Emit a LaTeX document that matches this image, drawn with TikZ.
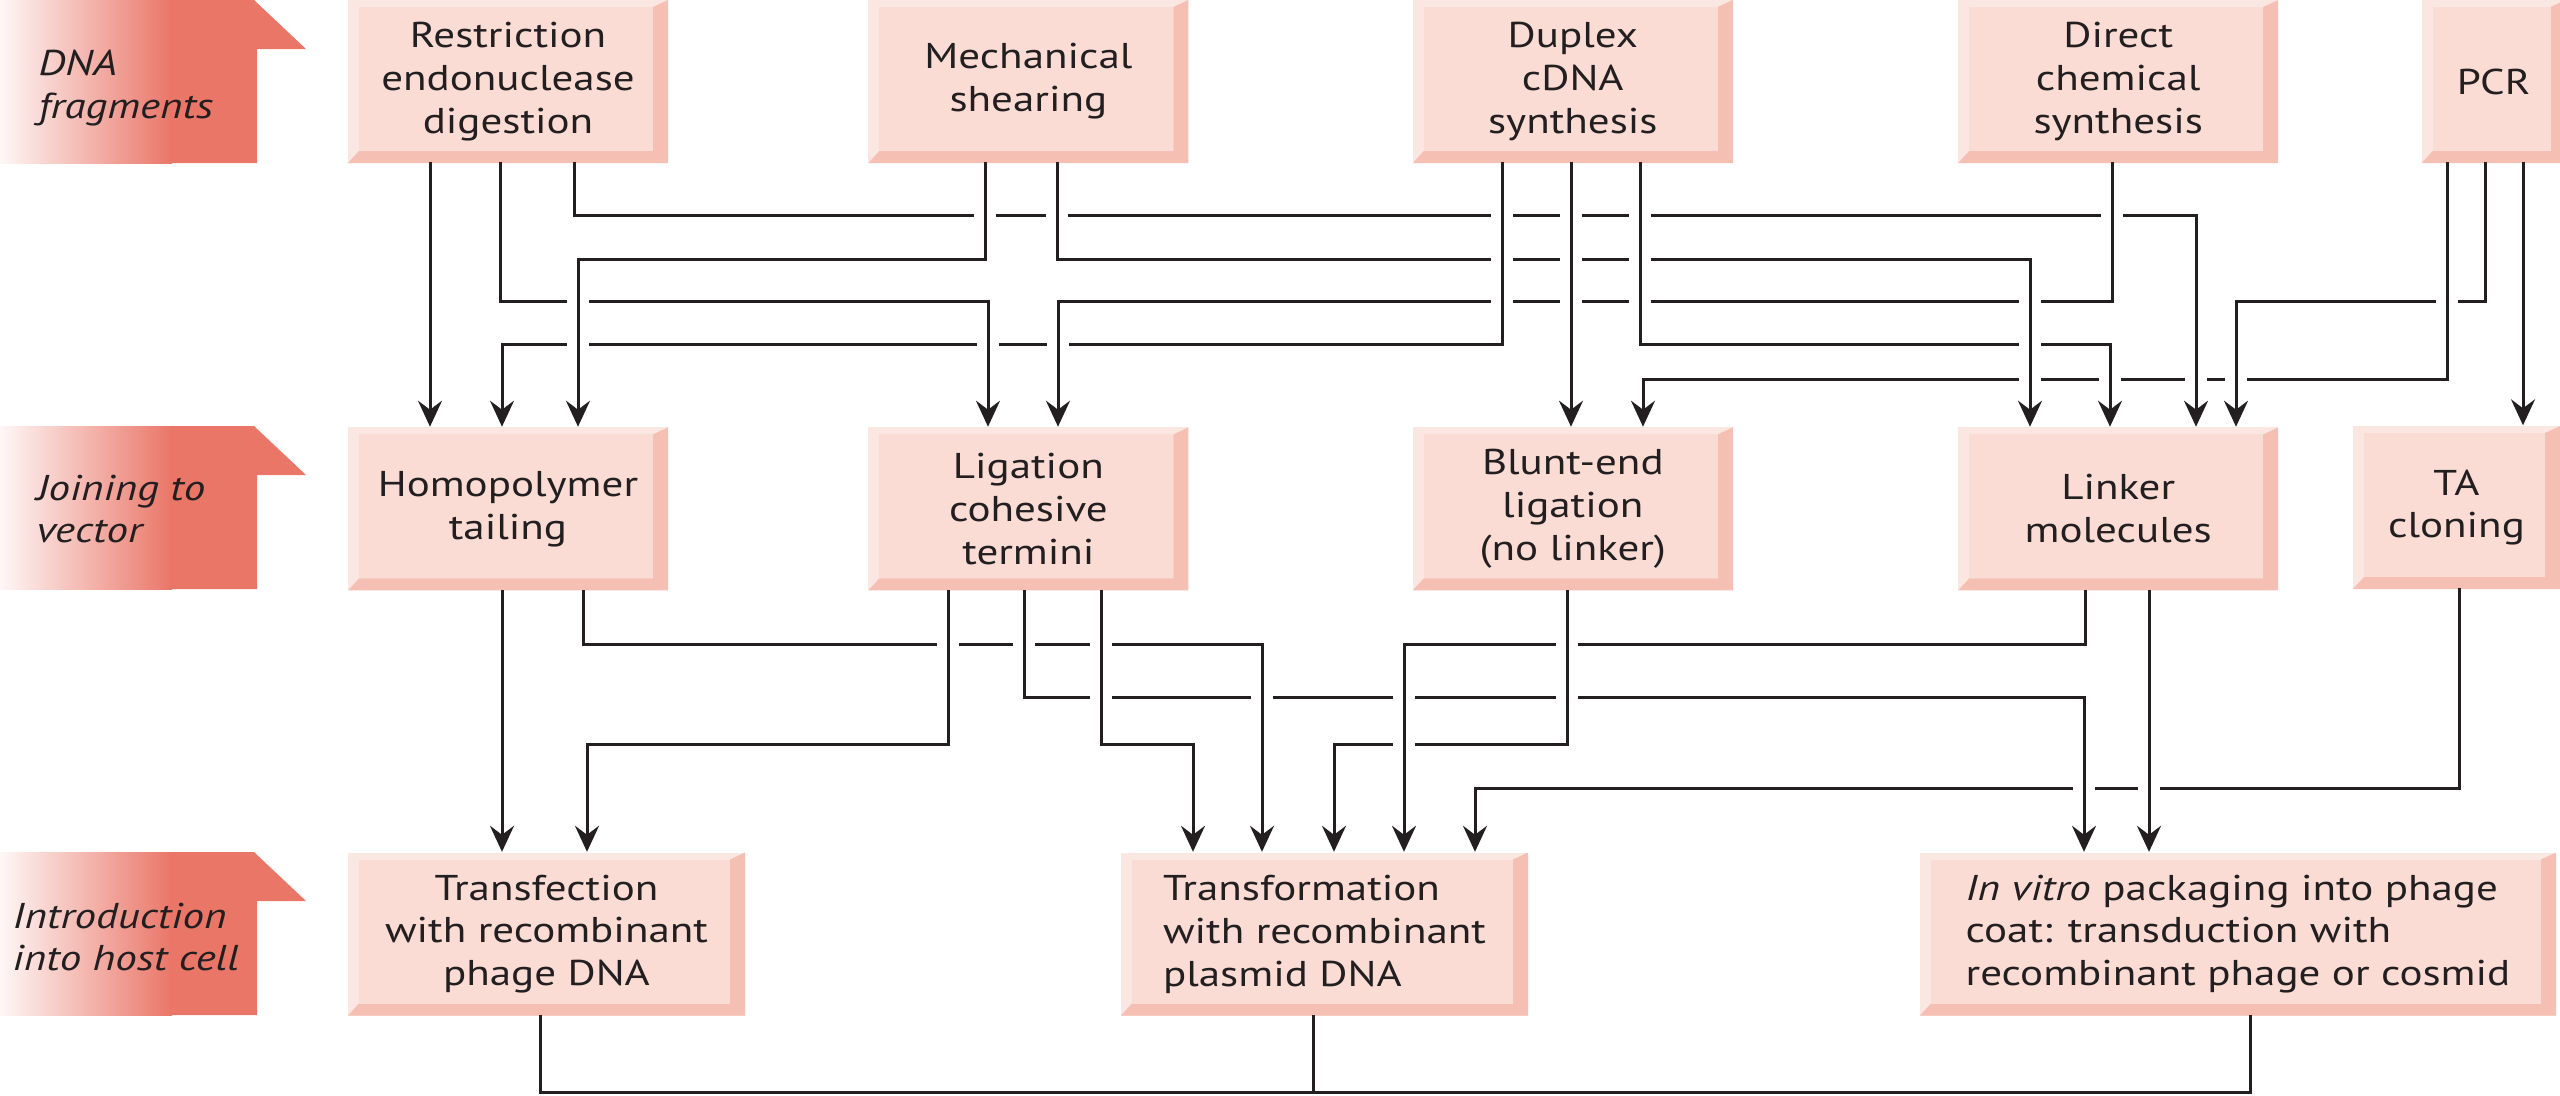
\documentclass[tikz,border=0pt]{standalone}
\usepackage{fontspec}
\setmainfont{PT Sans}[FakeStretch=1.2]
\usetikzlibrary{arrows.meta,positioning}
\definecolor{trazo}{RGB}{35,31,32}
\definecolor{pestana}{RGB}{234,118,104}
\definecolor{cajaclara}{RGB}{251,231,225}
\definecolor{cajacara}{RGB}{250,220,212}
\definecolor{cajaoscura}{RGB}{245,191,179}
\newcommand{\tamano}{\fontsize{10.2}{12.2}\selectfont}
\tikzstyle{caja}=[rectangle,inner sep=0pt,minimum width=32mm,minimum height=16.3mm,align=center,font=\tamano,text=trazo,fill=cajaclara,
  path picture={
    \fill[cajaoscura] (path picture bounding box.south west) -- (path picture bounding box.south east) -- (path picture bounding box.north east)
      -- ([shift={(-1.5mm,-0.7mm)}]path picture bounding box.north east) -- ([shift={(-1.5mm,1.2mm)}]path picture bounding box.south east)
      -- ([shift={(1.1mm,1.2mm)}]path picture bounding box.south west) -- cycle;
    \fill[cajacara] ([shift={(1.1mm,1.2mm)}]path picture bounding box.south west) rectangle ([shift={(-1.5mm,-0.7mm)}]path picture bounding box.north east);
  }]
\tikzstyle{rotulo}=[anchor=west,inner sep=0pt,align=left,font=\tamano\itshape,text=trazo]
\tikzstyle{linea}=[draw=trazo,line width=0.3mm,line cap=rect]
\tikzstyle{flecha}=[linea,-{Stealth[length=2.6mm,width=2.4mm,inset=0.9mm]}]
\tikzstyle{hueco}=[draw=white,line width=2.2mm]

\begin{document}
\begin{tikzpicture}[x=0.1mm,y=-0.1mm,node distance=26.3mm]
  \useasboundingbox (0,0) rectangle (2560,1095);
  % pestanas de la izquierda
  \foreach \t in {0,426,852}{
    \shade[left color=pestana!6,right color=pestana] (0,\t) rectangle (172,\t+163);
    \fill[pestana] (170,\t) -- (254,\t) -- (306,\t+49) -- (257,\t+49) -- (257,\t+163) -- (170,\t+163) -- cycle;
  }
  \node[rotulo] (frag) at (38,88) {DNA\\fragments};
  \node[rotulo] (union) at (36,509) {Joining to\\vector};
  \node[rotulo] (intro) at (12,937) {Introduction\\into host cell};

  \node[caja] (rest) at (508,81.5) {Restriction\\endonuclease\\digestion};
  \node[caja] (mech) [right=19.9mm of rest] {Mechanical\\shearing};
  \node[caja] (dup) [right=22.3mm of mech] {Duplex\\cDNA\\synthesis};
  \node[caja] (dir) [right=22.4mm of dup] {Direct\\chemical\\synthesis};
  \node[caja,minimum width=14.4mm] (pcr) [right=14.2mm of dir] {PCR};

  \node[caja] (homo) [below=of rest] {Homopolymer\\tailing};
  \node[caja] (lig) [below=of mech] {Ligation\\cohesive\\termini};
  \node[caja] (blunt) [below=of dup] {Blunt-end\\ligation\\(no linker)};
  \node[caja] (link) [below=of dir] {Linker\\molecules};
  \node[caja,minimum width=20.7mm] (ta) at (2456.5,507.5) {TA\\cloning};

  \node[caja,minimum width=39.7mm] (transf) at (546.5,934) {Transfection\\with recombinant\\phage DNA};
  \node[caja,minimum width=40.7mm,align=left] (transform) at (1324.5,934) {Transformation\\with recombinant\\plasmid DNA};
  \node[caja,minimum width=63.6mm,align=left] (vitro) at (2238,934) {\textit{In vitro} packaging into phage\\coat: transduction with\\recombinant phage or cosmid};

  % tramos horizontales
  \foreach \a/\xa/\ly/\xb/\b in {rest/500/301/988/lig,rest/574/215/2196/link,mech/985/259/578/homo,mech/1057/259/2030/link,
      dup/1502/344/502/homo,dup/1640/344/2110/link,dir/2112/301/1058/lig,pcr/2447/379/1643/blunt,pcr/2485/301/2236/link,
      homo/583/644/1262/transform,lig/948/744/587/transf,lig/1024/697/2084/vitro,lig/1101/744/1193/transform,
      blunt/1567/744/1334/transform,link/2085/644/1404/transform,ta/2459/788/1475/transform}
    \draw[linea] (\xa,\ly) -- (\xb,\ly);
  % tramos verticales, cortando los horizontales que cruzan
  \foreach \a/\xa/\ly/\xb/\b in {rest/500/301/988/lig,rest/574/215/2196/link,mech/985/259/578/homo,mech/1057/259/2030/link,
      dup/1502/344/502/homo,dup/1640/344/2110/link,dir/2112/301/1058/lig,pcr/2447/379/1643/blunt,pcr/2485/301/2236/link,
      homo/583/644/1262/transform,lig/948/744/587/transf,lig/1024/697/2084/vitro,lig/1101/744/1193/transform,
      blunt/1567/744/1334/transform,link/2085/644/1404/transform,ta/2459/788/1475/transform}{
    \draw[hueco] (\a.south -| \xa,0) -- (\xa,\ly-4) (\xb,\ly+4) -- (\b.north -| \xb,0);
    \draw[linea] (\a.south -| \xa,0) -- (\xa,\ly);
    \draw[flecha] (\xb,\ly) -- (\b.north -| \xb,0);
  }
  \foreach \a/\x/\b in {rest/430/homo,dup/1571/blunt,pcr/2523/ta,homo/502/transf,link/2149/vitro}{
    \draw[hueco] (\a.south -| \x,0) -- (\b.north -| \x,0);
    \draw[flecha] (\a.south -| \x,0) -- (\b.north -| \x,0);
  }

  \draw[linea] (transf.south -| 540,0) |- (2250,1092) -- (vitro.south -| 2250,0);
  \draw[linea] (transform.south -| 1313,0) -- (1313,1092);
\end{tikzpicture}
\end{document}
